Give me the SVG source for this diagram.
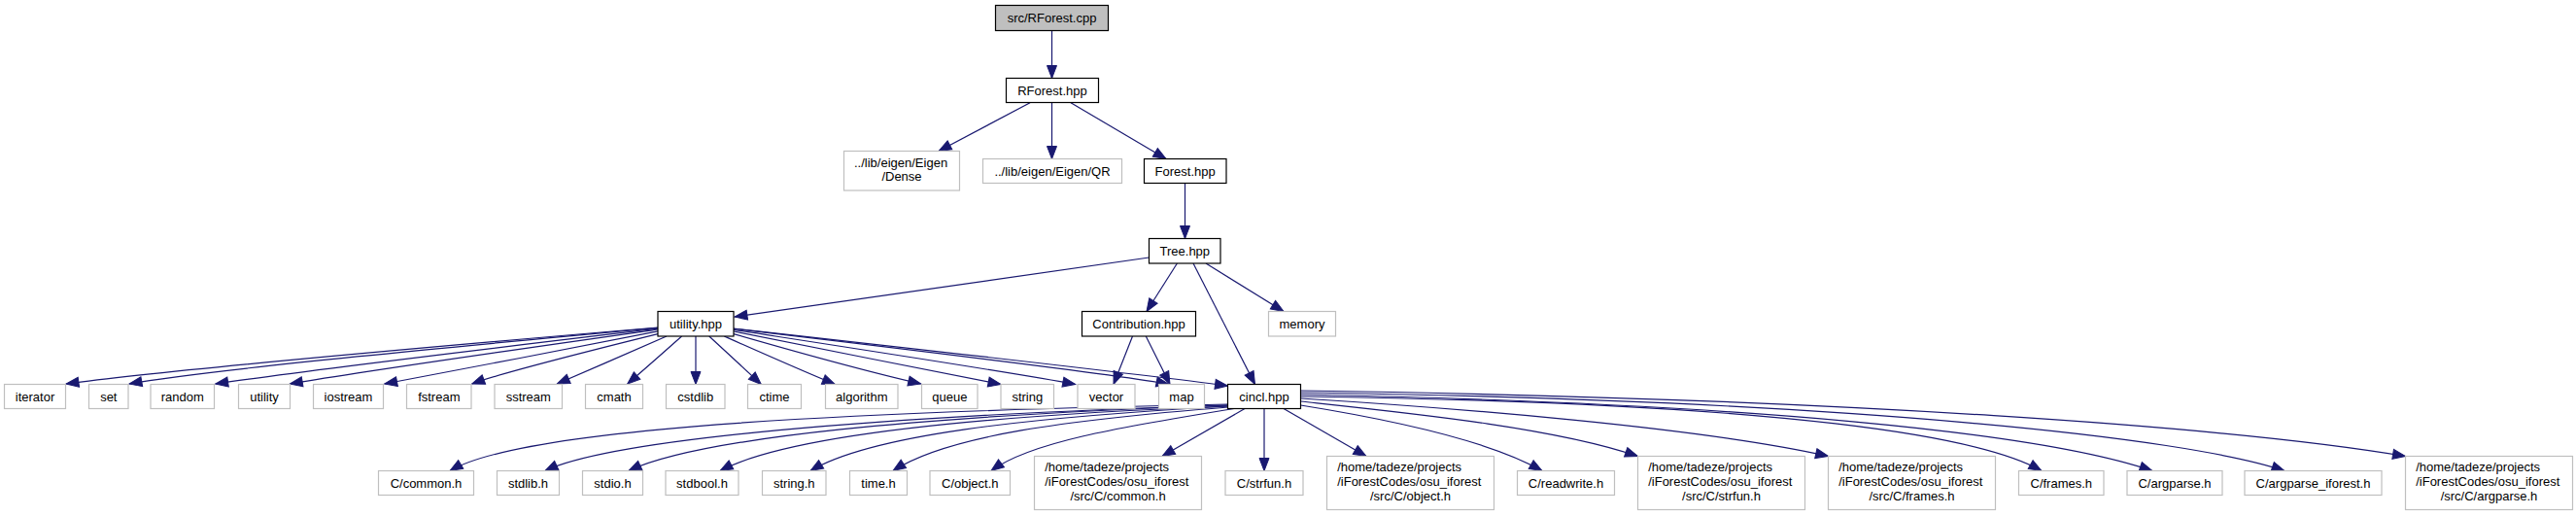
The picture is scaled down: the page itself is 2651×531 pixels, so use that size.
<svg xmlns="http://www.w3.org/2000/svg" width="2651" height="531" viewBox="0 0 2651 531">
<style>
text{font-family:"Liberation Sans",Arial,Helvetica,sans-serif;font-size:13px;fill:#000}
.m{text-anchor:middle}
.s{text-anchor:start}
rect{fill:#fff;stroke-width:1.2}
.k{stroke:#000}
.g{stroke:#bfbfbf}
.root{fill:#bfbfbf;stroke:#000}
#edges path{fill:none;stroke:#191970;stroke-width:1.2;marker-end:url(#ah)}
</style>
<defs>
<marker id="ah" markerUnits="userSpaceOnUse" markerWidth="16" markerHeight="14" refX="13" refY="5.5" orient="auto" overflow="visible">
<path d="M0,0.5 L13,5.5 L0,10.5 z" fill="#191970" stroke="#191970" stroke-width="1"/>
</marker>
</defs>
<rect x="0" y="0" width="2651" height="531" style="fill:#fff;stroke:none"/>
<g id="edges">
<path d="M1082.5,31.5 L1082.5,80.5"/>
<path d="M1060,105.7 L966,155.5"/>
<path d="M1082.5,105.7 L1082.5,163.5"/>
<path d="M1102,105.7 L1200,163.5"/>
<path d="M1219.5,188.7 L1219.5,245.5"/>
<path d="M1182.5,265 L756,326"/>
<path d="M1211.4,271 L1180,320.5"/>
<path d="M1228,271 L1291.5,395.5"/>
<path d="M1241,271 L1321,320.5"/>
<path d="M1165.5,346 L1146,395.5"/>
<path d="M1179.3,346 L1204,395.5"/>
<path d="M677,337 C477,354 177,380 68,395"/>
<path d="M677,337.4 C493,354.4 216.7,380 133,395"/>
<path d="M677,338.1 C535,355 321.7,380 221.7,395"/>
<path d="M677,339 C561,355.4 386.7,380 298.3,395"/>
<path d="M677,340.8 C597,356.5 476.7,380 395.7,395"/>
<path d="M677,343.7 C613.5,359.4 518.3,383 485.7,395"/>
<path d="M686,346 C655,359.6 608.3,380 573.3,395"/>
<path d="M701.6,346 C686.3,359.6 663.3,380 645.7,395"/>
<path d="M716,346 L716,395.5"/>
<path d="M729.8,346 C744.6,359.6 766.7,380 783.3,395.5"/>
<path d="M745.3,346 C775.9,359.6 821.7,380 859.3,395.5"/>
<path d="M755,343.6 C805.7,358.2 881.7,380 947.7,395"/>
<path d="M755,341 C833,356.6 950,380 1030,395.5"/>
<path d="M755,339.4 C869,357 1040,383 1106.7,395.5"/>
<path d="M755,338.3 C913,357 1150,385 1203,395.5"/>
<path d="M755,338 C919.4,356.4 1166,384 1263.5,397"/>
<path d="M1264,416 C800,425 530,445 463,484.5"/>
<path d="M1264,417 C900,428 630,452 561,484.5"/>
<path d="M1264,417 C950,428 720,450 647,484.5"/>
<path d="M1264,418 C1000,428 810,448 741,484.5"/>
<path d="M1264,418 C1050,430 895,448 834,484.5"/>
<path d="M1264,419 C1100,432 975,448 919,484.5"/>
<path d="M1270,420.5 C1150,440 1060,455 1020,484.5"/>
<path d="M1281,420.5 L1196,469.5"/>
<path d="M1301,420.5 L1301,484.5"/>
<path d="M1321,420.5 L1406,469.5"/>
<path d="M1338.5,417 C1420,430 1530,452 1587,484.5"/>
<path d="M1338.5,413 C1450,425 1600,440 1685.5,469.5"/>
<path d="M1338.5,410 C1500,420 1750,440 1881.5,469.5"/>
<path d="M1338.5,408 C1850,415 2040,450 2101,484.5"/>
<path d="M1338.5,406 C1800,415 2100,445 2215,484.5"/>
<path d="M1338.5,404 C1900,412 2250,450 2351,484.5"/>
<path d="M1338.5,402 C1900,410 2300,440 2475.5,469.5"/>
</g>
<g id="n_rforest_cpp"><rect class="root" x="1024.5" y="5.5" width="116" height="26"/><text class="m" x="1082.5" y="23">src/RForest.cpp</text></g>
<g id="n_rforest_hpp"><rect class="k" x="1035.5" y="80.5" width="95" height="25"/><text class="m" x="1083" y="97.7">RForest.hpp</text></g>
<g id="n_dense"><rect class="g" x="868.5" y="155.5" width="119" height="40.5"/><text class="s" x="879" y="171.7">../lib/eigen/Eigen</text><text class="m" x="928" y="186">/Dense</text></g>
<g id="n_qr"><rect class="g" x="1011.5" y="163.5" width="143" height="25"/><text class="m" x="1083" y="180.5">../lib/eigen/Eigen/QR</text></g>
<g id="n_forest"><rect class="k" x="1177.5" y="163.5" width="84.5" height="25"/><text class="m" x="1219.7" y="180.5">Forest.hpp</text></g>
<g id="n_tree"><rect class="k" x="1182.5" y="245.5" width="73.5" height="25.5"/><text class="m" x="1219.3" y="262.8">Tree.hpp</text></g>
<g id="n_utility_hpp"><rect class="k" x="677" y="320.5" width="78" height="25.5"/><text class="m" x="716" y="338">utility.hpp</text></g>
<g id="n_contribution"><rect class="k" x="1113.5" y="320.5" width="117" height="25.5"/><text class="m" x="1172" y="338">Contribution.hpp</text></g>
<g id="n_memory"><rect class="g" x="1305.5" y="320.5" width="69" height="25.5"/><text class="m" x="1340" y="338">memory</text></g>
<g id="n_iterator"><rect class="g" x="4.5" y="395.5" width="63" height="25"/><text class="m" x="36" y="412.5">iterator</text></g>
<g id="n_set"><rect class="g" x="91.5" y="395.5" width="40.5" height="25"/><text class="m" x="111.8" y="412.5">set</text></g>
<g id="n_random"><rect class="g" x="155" y="395.5" width="65.5" height="25"/><text class="m" x="187.8" y="412.5">random</text></g>
<g id="n_utility"><rect class="g" x="245.5" y="395.5" width="53" height="25"/><text class="m" x="272" y="412.5">utility</text></g>
<g id="n_iostream"><rect class="g" x="322.5" y="395.5" width="72" height="25"/><text class="m" x="358.5" y="412.5">iostream</text></g>
<g id="n_fstream"><rect class="g" x="418.5" y="395.5" width="66.5" height="25"/><text class="m" x="451.8" y="412.5">fstream</text></g>
<g id="n_sstream"><rect class="g" x="509" y="395.5" width="69.5" height="25"/><text class="m" x="543.8" y="412.5">sstream</text></g>
<g id="n_cmath"><rect class="g" x="602.5" y="395.5" width="59" height="25"/><text class="m" x="632" y="412.5">cmath</text></g>
<g id="n_cstdlib"><rect class="g" x="685.5" y="395.5" width="60.5" height="25"/><text class="m" x="715.8" y="412.5">cstdlib</text></g>
<g id="n_ctime"><rect class="g" x="769.5" y="395.5" width="55" height="25"/><text class="m" x="797" y="412.5">ctime</text></g>
<g id="n_algorithm"><rect class="g" x="849.5" y="395.5" width="74.5" height="25"/><text class="m" x="886.8" y="412.5">algorithm</text></g>
<g id="n_queue"><rect class="g" x="948.5" y="395.5" width="57.5" height="25"/><text class="m" x="977.3" y="412.5">queue</text></g>
<g id="n_string"><rect class="g" x="1030" y="395.5" width="54.5" height="25"/><text class="m" x="1057.3" y="412.5">string</text></g>
<g id="n_vector"><rect class="g" x="1109" y="395.5" width="59" height="25"/><text class="m" x="1138.5" y="412.5">vector</text></g>
<g id="n_map"><rect class="g" x="1192.5" y="395.5" width="47" height="25"/><text class="m" x="1216" y="412.5">map</text></g>
<g id="n_cincl"><rect class="k" x="1263.5" y="395.5" width="75" height="25"/><text class="m" x="1301" y="412.5">cincl.hpp</text></g>
<g id="n_c_common"><rect class="g" x="389.5" y="484.5" width="98" height="25"/><text class="m" x="438.5" y="501.7">C/common.h</text></g>
<g id="n_stdlib"><rect class="g" x="511.5" y="484.5" width="64" height="25"/><text class="m" x="543.5" y="501.7">stdlib.h</text></g>
<g id="n_stdio"><rect class="g" x="599.5" y="484.5" width="62" height="25"/><text class="m" x="630.5" y="501.7">stdio.h</text></g>
<g id="n_stdbool"><rect class="g" x="685" y="484.5" width="75" height="25"/><text class="m" x="722.5" y="501.7">stdbool.h</text></g>
<g id="n_string_h"><rect class="g" x="784.5" y="484.5" width="65.5" height="25"/><text class="m" x="817.3" y="501.7">string.h</text></g>
<g id="n_time"><rect class="g" x="874.5" y="484.5" width="59" height="25"/><text class="m" x="904" y="501.7">time.h</text></g>
<g id="n_c_object"><rect class="g" x="957" y="484.5" width="82.5" height="25"/><text class="m" x="998.3" y="501.7">C/object.h</text></g>
<g id="n_home_common"><rect class="g" x="1064.5" y="469.5" width="172" height="55"/><text class="s" x="1075.2" y="485">/home/tadeze/projects</text><text class="s" x="1075.2" y="500">/iForestCodes/osu_iforest</text><text class="m" x="1150.5" y="514.5">/src/C/common.h</text></g>
<g id="n_c_strfun"><rect class="g" x="1261" y="484.5" width="80" height="25"/><text class="m" x="1301" y="501.7">C/strfun.h</text></g>
<g id="n_home_object"><rect class="g" x="1365.5" y="469.5" width="172" height="55"/><text class="s" x="1376.2" y="485">/home/tadeze/projects</text><text class="s" x="1376.2" y="500">/iForestCodes/osu_iforest</text><text class="m" x="1451.5" y="514.5">/src/C/object.h</text></g>
<g id="n_c_readwrite"><rect class="g" x="1561.5" y="484.5" width="100" height="25"/><text class="m" x="1611.5" y="501.7">C/readwrite.h</text></g>
<g id="n_home_strfun"><rect class="g" x="1685.5" y="469.5" width="172" height="55"/><text class="s" x="1696.2" y="485">/home/tadeze/projects</text><text class="s" x="1696.2" y="500">/iForestCodes/osu_iforest</text><text class="m" x="1771.5" y="514.5">/src/C/strfun.h</text></g>
<g id="n_home_frames"><rect class="g" x="1881.5" y="469.5" width="172" height="55"/><text class="s" x="1892.2" y="485">/home/tadeze/projects</text><text class="s" x="1892.2" y="500">/iForestCodes/osu_iforest</text><text class="m" x="1967.5" y="514.5">/src/C/frames.h</text></g>
<g id="n_c_frames"><rect class="g" x="2077.5" y="484.5" width="87.5" height="25"/><text class="m" x="2121.3" y="501.7">C/frames.h</text></g>
<g id="n_c_argparse"><rect class="g" x="2189" y="484.5" width="98" height="25"/><text class="m" x="2238" y="501.7">C/argparse.h</text></g>
<g id="n_c_argparse_iforest"><rect class="g" x="2310" y="484.5" width="141" height="25"/><text class="m" x="2380.5" y="501.7">C/argparse_iforest.h</text></g>
<g id="n_home_argparse"><rect class="g" x="2475.5" y="469.5" width="172" height="55"/><text class="s" x="2486.2" y="485">/home/tadeze/projects</text><text class="s" x="2486.2" y="500">/iForestCodes/osu_iforest</text><text class="m" x="2561.5" y="514.5">/src/C/argparse.h</text></g>
</svg>
